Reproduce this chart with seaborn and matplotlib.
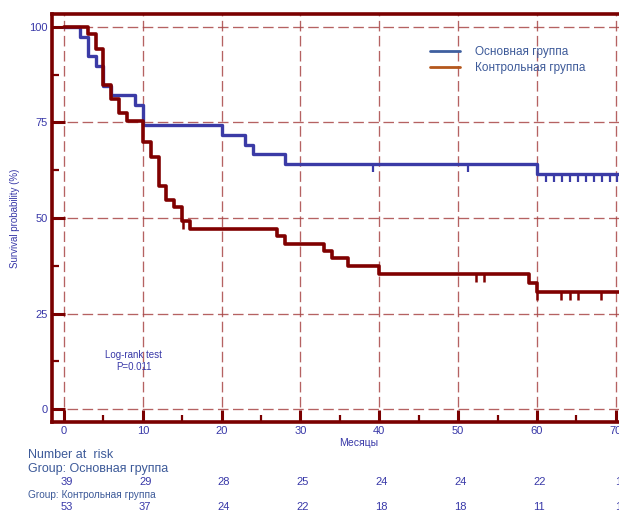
import numpy as np
import matplotlib
matplotlib.use("Agg")
import matplotlib.pyplot as plt
from matplotlib.path import Path
from matplotlib.lines import Line2D
from matplotlib.transforms import blended_transform_factory
import seaborn as sns

# Kaplan-Meier steps
main_label = "Основная группа"
main_times = [0, 2, 3, 4, 5, 6, 9, 10, 20, 23, 24, 28, 60]
main_surv = [100, 97.4, 92.3, 89.7, 84.6, 82.1, 79.5, 74.4, 71.8, 69.2, 66.7, 64.1, 61.5]
main_censored = [39.2, 51.2, 61.2, 62.2, 63.2, 64.2, 65.2, 66.2, 67.2, 68.2, 69.2, 70.2]

ctrl_label = "Контрольная группа"
ctrl_times = [0, 3, 4, 5, 6, 7, 8, 10, 11, 12, 13, 14, 15, 16, 27, 28, 33, 34, 36, 40, 59, 60]
ctrl_surv = [100, 98.1, 94.3, 84.9, 81.1, 77.4, 75.5, 69.8, 66.0, 58.5, 54.7, 52.8, 49.1,
             47.2, 45.2, 43.2, 41.3, 39.4, 37.4, 35.4, 33.0, 30.6]
ctrl_censored = [15.05, 52.2, 53.3, 60.05, 63.1, 64.2, 65.2, 68.1]

follow_up_end = 70.5

risk_times = [0, 10, 20, 30, 40, 50, 60, 70]
main_at_risk = [39, 29, 28, 25, 24, 24, 22, 1]
ctrl_at_risk = [53, 37, 24, 22, 18, 18, 11, 1]

x_ticks = [0, 10, 20, 30, 40, 50, 60, 70]
y_ticks = [0, 25, 50, 75, 100]

sns.set_style("white")
plt.rcParams['font.family'] = ['Liberation Sans', 'DejaVu Sans']

dark_red = '#7a0000'
blue = '#3b3ba6'
label_blue = '#3838a8'
text_grey_blue = '#3d5a99'

fig = plt.figure(figsize=(6.19, 5.12), dpi=100)
ax = fig.add_axes([52 / 619, 1 - 422 / 512, 1 - 52 / 619, (422 - 14) / 512])


def step_frame(times, surv):
    xs = list(times) + [follow_up_end]
    ys = list(surv) + [surv[-1]]
    return xs, ys


def surv_at(times, surv, t):
    idx = np.searchsorted(times, t, side='right') - 1
    return np.asarray(surv)[idx]


mx, my = step_frame(main_times, main_surv)
cx, cy = step_frame(ctrl_times, ctrl_surv)
sns.lineplot(x=mx, y=my, drawstyle='steps-post', color=blue, linewidth=2.4,
             estimator=None, sort=False, ax=ax, zorder=4)
sns.lineplot(x=cx, y=cy, drawstyle='steps-post', color='#800000', linewidth=2.6,
             estimator=None, sort=False, ax=ax, zorder=5)

# censoring ticks hang below the curve
tick_path = Path([(0, 0), (0, -1)])
ax.plot(main_censored, surv_at(main_times, main_surv, main_censored), linestyle='none',
        marker=tick_path, markersize=11, markeredgewidth=1.6, color=blue, zorder=4)
ax.plot(ctrl_censored, surv_at(ctrl_times, ctrl_surv, ctrl_censored), linestyle='none',
        marker=tick_path, markersize=11, markeredgewidth=1.8, color='#800000', zorder=5)

ax.set_xlim(-1.52, 70.4)
ax.set_ylim(-3.4, 103.4)
ax.set_xticks(x_ticks)
ax.set_yticks(y_ticks)
ax.set_xticks([5, 15, 25, 35, 45, 55, 65], minor=True)
ax.set_yticks([12.5, 37.5, 62.5, 87.5], minor=True)
ax.set_xticklabels([str(v) for v in x_ticks])
ax.set_yticklabels([str(v) for v in y_ticks])
ax.tick_params(which='major', direction='in', length=9, width=2.2, color=dark_red,
               labelcolor=label_blue, labelsize=8, pad=3)
ax.tick_params(which='minor', direction='in', length=5, width=1.6, color=dark_red)
ax.tick_params(axis='x', which='both', bottom=True)
ax.tick_params(axis='y', which='both', left=True)

ax.grid(True, which='major', color='#a84646', linestyle=(0, (8, 3.4)), linewidth=0.95, alpha=0.85)
ax.set_axisbelow(True)

for side in ['left', 'bottom', 'top']:
    ax.spines[side].set_color(dark_red)
    ax.spines[side].set_linewidth(2.6)
ax.spines['right'].set_visible(False)

ax.set_xlabel("")
ax.set_ylabel("")
fig.text(15 / 619, 1 - 218 / 512, "Survival probability (%)", rotation=90, ha='center',
         va='center', fontsize=7, color=label_blue)
fig.text(359 / 619, 1 - 443 / 512, "Месяцы", ha='center', va='center', fontsize=7.5,
         color=label_blue)

ax.text(8.85, 12.6, "Log-rank test\nP=0.011", ha='center', va='center', fontsize=7,
        color=label_blue, linespacing=1.25)

handles = [Line2D([0], [0], color='#3f5f9f', linewidth=2),
           Line2D([0], [0], color='#b4571c', linewidth=2)]
ax.legend(handles, [main_label, ctrl_label], loc='upper left',
          bbox_to_anchor=(430 / 619, 1 - 46 / 512), bbox_transform=fig.transFigure,
          frameon=False, fontsize=8.5, labelcolor=text_grey_blue, handlelength=2.5,
          handletextpad=1.35, labelspacing=0.35, borderpad=0, borderaxespad=0)

# number-at-risk table under the axis
fig.text(28 / 619, 1 - 455 / 512, "Number at  risk", ha='left', va='center', fontsize=9,
         color=text_grey_blue)
fig.text(28 / 619, 1 - 469 / 512, "Group: " + main_label, ha='left', va='center',
         fontsize=9, color=text_grey_blue)
fig.text(28 / 619, 1 - 495 / 512, "Group: " + ctrl_label, ha='left', va='center',
         fontsize=7.3, color=text_grey_blue)
trans = blended_transform_factory(ax.transData, fig.transFigure)
for t, n in zip(risk_times, main_at_risk):
    fig.text(t + 0.3, 1 - 482 / 512, str(n), transform=trans, ha='center', va='center',
             fontsize=8, color=label_blue)
for t, n in zip(risk_times, ctrl_at_risk):
    fig.text(t + 0.3, 1 - 507 / 512, str(n), transform=trans, ha='center', va='center',
             fontsize=8, color=label_blue)

fig.savefig("out.png", dpi=100)
